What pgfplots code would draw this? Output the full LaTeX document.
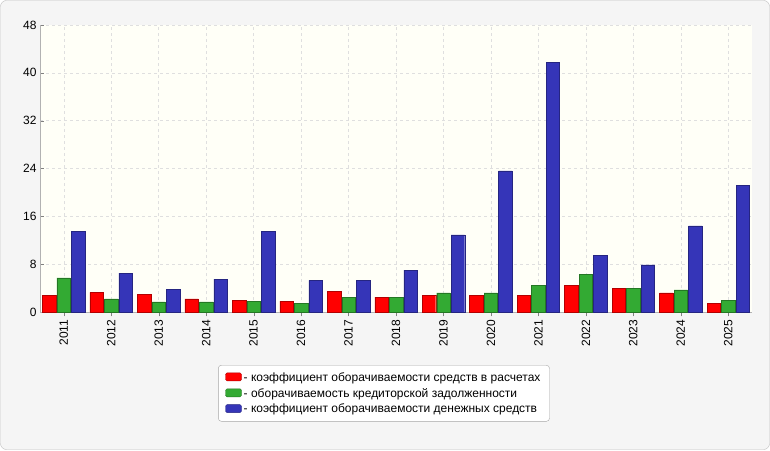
\documentclass[border=0pt]{standalone}
\usepackage{pgfplots}
\pgfplotsset{compat=1.18}
\usepackage{fontspec}
\setmainfont{Liberation Sans}
\definecolor{cred}{HTML}{FF0000}
\definecolor{cgreen}{HTML}{33AA33}
\definecolor{cblue}{HTML}{3535B8}
\begin{document}
\begin{tikzpicture}[x=1pt,y=1pt]
\fill[white] (0,0) rectangle (770,450);
\draw[gray!50,fill=gray!8,rounded corners=6pt] (0.5,0.5) rectangle (769.5,449.5);
\begin{axis}[at={(40pt,138pt)},anchor=south west,scale only axis,
 width=712pt,height=287pt,
 axis background/.style={fill=yellow!3},
 ybar=1pt, bar width=13.5pt,
 xmin=-0.5,xmax=14.5,ymin=0,ymax=48,
 ytick={0,8,16,24,32,40,48},
 xtick={0,...,14},
 xticklabels={2011,2012,2013,2014,2015,2016,2017,2018,2019,2020,2021,2022,2023,2024,2025},
 xticklabel style={rotate=90,anchor=east,font=\fontsize{12}{14}\selectfont},
 yticklabel style={font=\fontsize{12}{14}\selectfont},
 /pgf/number format/assume math mode=true,
 grid=both, major grid style={dashed,gray!25},
 axis line style={gray!60}, tick style={gray},
 axis x line*=bottom, axis y line*=left,
 legend style={at={(0.483,-0.185)},anchor=north,draw=gray!70,rounded corners=3pt,
   font=\fontsize{12}{15}\selectfont,legend cell align=left,inner xsep=7pt,inner ysep=5pt,
   row sep=1.5pt},
 legend image code/.code={\fill[#1,rounded corners=1.5pt] (0pt,-3.5pt) rectangle (16pt,4.5pt);},
]
\addplot[fill=cred,draw=cred!70!black] coordinates {(0,2.8)(1,3.3)(2,3.0)(3,2.2)(4,2.0)(5,1.8)(6,3.5)(7,2.5)(8,2.8)(9,2.8)(10,2.8)(11,4.4)(12,4.0)(13,3.2)(14,1.4)};
\addplot[fill=cgreen,draw=cgreen!70!black] coordinates {(0,5.7)(1,2.2)(2,1.7)(3,1.7)(4,1.8)(5,1.5)(6,2.5)(7,2.5)(8,3.2)(9,3.2)(10,4.5)(11,6.3)(12,4.0)(13,3.7)(14,2.0)};
\addplot[fill=cblue,draw=cblue!70!black] coordinates {(0,13.5)(1,6.5)(2,3.8)(3,5.5)(4,13.5)(5,5.3)(6,5.3)(7,7.0)(8,12.9)(9,23.6)(10,41.8)(11,9.5)(12,7.9)(13,14.4)(14,21.2)};
\legend{- коэффициент оборачиваемости средств в расчетах,- оборачиваемость кредиторской задолженности,- коэффициент оборачиваемости денежных средств}
\end{axis}
\end{tikzpicture}
\end{document}
